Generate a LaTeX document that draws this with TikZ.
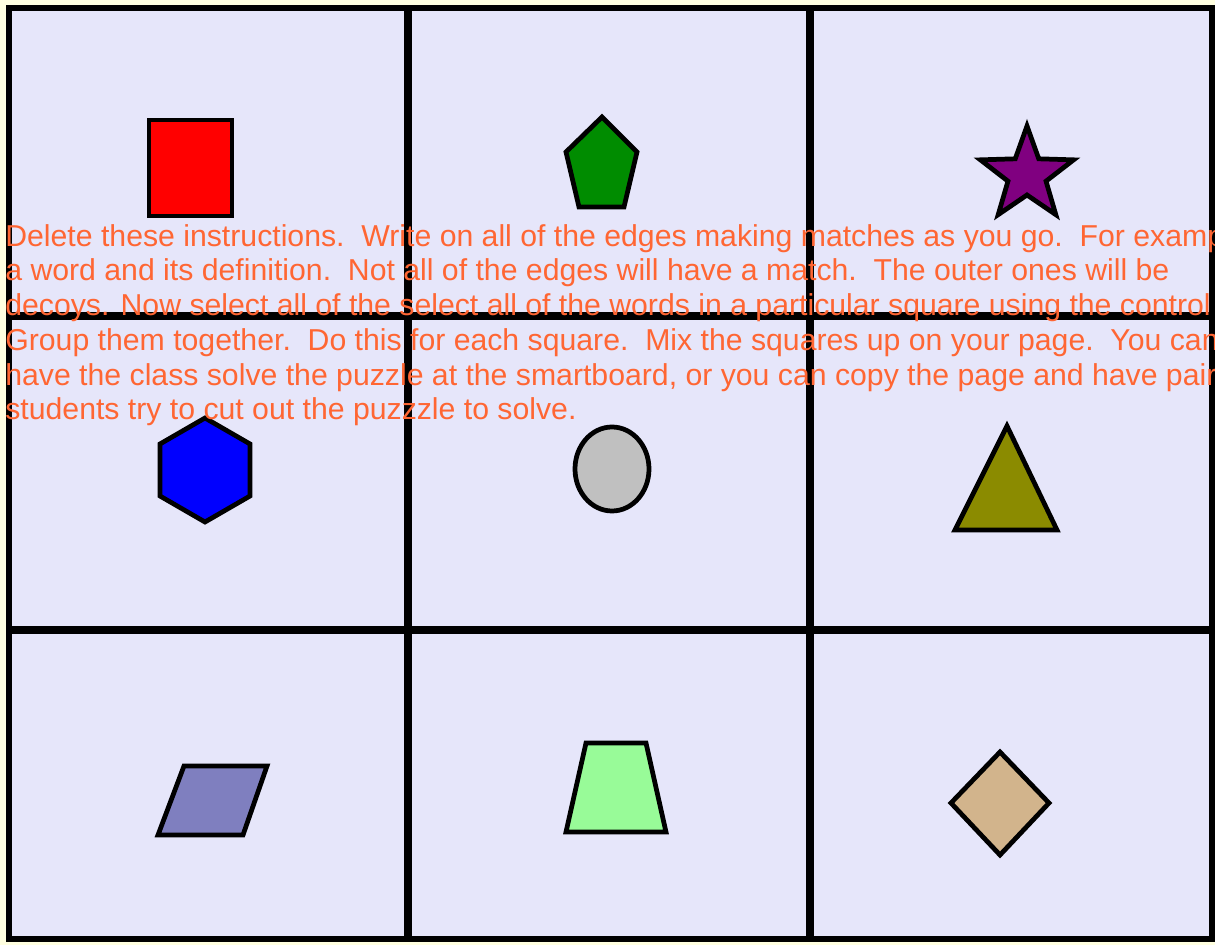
\documentclass[tikz,border=0pt]{standalone}
\usepackage{fontspec}
\setmainfont{Liberation Sans}
\usepackage{xcolor}
\definecolor{pagebg}{HTML}{FFFFE0}
\definecolor{cellbg}{HTML}{E6E6FA}
\definecolor{note}{HTML}{FF6633}
\definecolor{pentagreen}{HTML}{008C00}
\definecolor{starpurple}{HTML}{800080}
\definecolor{ovalgray}{HTML}{C0C0C0}
\definecolor{triolive}{HTML}{8B8B00}
\definecolor{parablue}{HTML}{7F7FBF}
\definecolor{trapgreen}{HTML}{98FB98}
\definecolor{diatan}{HTML}{D2B48C}

\begin{document}
\begin{tikzpicture}[x=0.02cm, y=-0.02cm,
    frameline/.style={line width=3pt, black},
    cellline/.style={line width=4.2pt, black},
    shp/.style={draw=black, line width=2.7pt, line join=miter, fill=#1},
    instr/.style={font=\fontsize{17.2}{19.8}\selectfont, text=note, align=left, inner sep=0pt},
]

% Page
\useasboundingbox (0,0) rectangle (1215,945);
\fill[pagebg] (0,0) rectangle (1215,945);
\fill[cellbg] (9,8) rectangle (1212,939);

% Grid of cells
\draw[cellline] (408,8) -- (408,939);
\draw[cellline] (810,8) -- (810,939);
\draw[cellline] (9,316) -- (1212,316);
\draw[cellline] (9,630) -- (1212,630);
\draw[frameline] (9,8) rectangle (1212,939);

% Top row
\draw[shp=red] (149,120) rectangle (232,216);
\draw[shp=pentagreen] (602,117) -- (637,152) -- (624,207) -- (579,207) -- (566,152) -- cycle;
\draw[shp=starpurple, shift={(1027,175)}] (-90:49) -- (-54:20) -- (-18:49) -- (18:20) -- (54:49)
    -- (90:20) -- (126:49) -- (162:20) -- (198:49) -- (234:20) -- cycle;

% Middle row
\draw[shp=blue, shift={(205,470)}] (-90:52) -- (-30:52) -- (30:52) -- (90:52) -- (150:52) -- (210:52) -- cycle;
\draw[shp=ovalgray] (612,469) ellipse [x radius=37, y radius=42];
\draw[shp=triolive] (1007,426) -- (1057,530) -- (955,530) -- cycle;

% Bottom row
\draw[shp=parablue] (184,766) -- (267,766) -- (243,835) -- (158,835) -- cycle;
\draw[shp=trapgreen] (586,743) -- (646,743) -- (666,832) -- (566,832) -- cycle;
\draw[shp=diatan] (1000,752) -- (1049,803) -- (1000,855) -- (951,803) -- cycle;

% Instructions
\begin{scope}
\clip (0,0) rectangle (1215,945);
\node[instr, anchor=base west] (notes) at (5,420) {%
Delete these instructions.\ \ Write on all of the edges making matches as you go.\ \ For example,\\
a word and its definition.\ \ Not all of the edges will have a match.\ \ The outer ones will be\\
decoys. Now select all of the select all of the words in a particular square using the control key.\\
Group them together.\ \ Do this for each square.\ \ Mix the squares up on your page.\ \ You can\\
have the class solve the puzzle at the smartboard, or you can copy the page and have pairs\\
students try to cut out the puzzzle to solve.};
\end{scope}

\end{tikzpicture}
\end{document}
